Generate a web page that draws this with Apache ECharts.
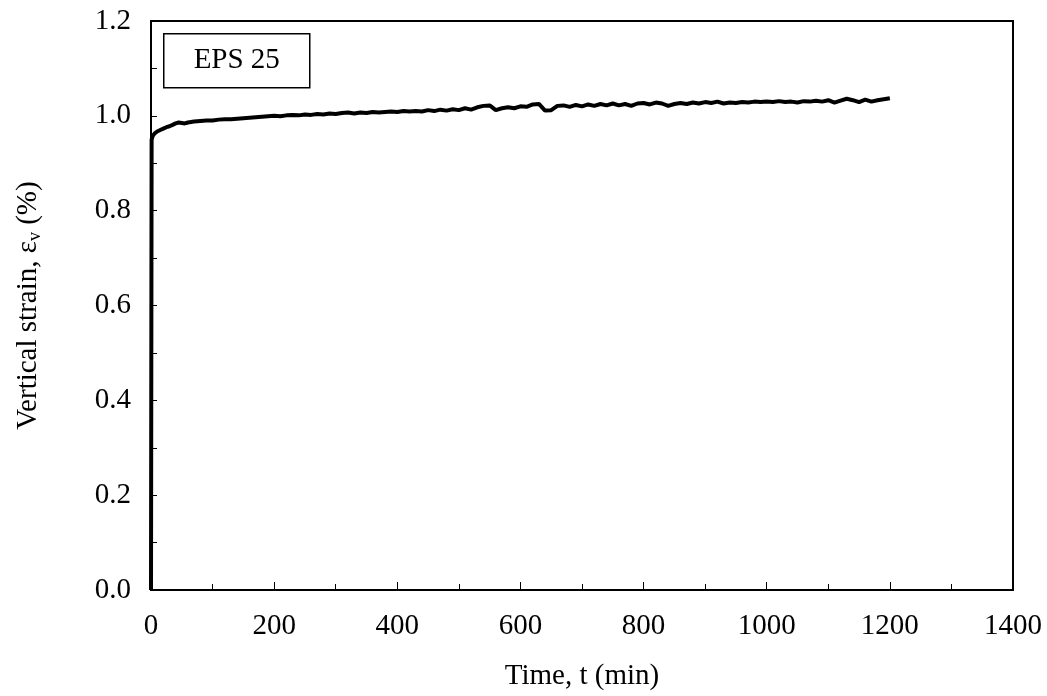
<!DOCTYPE html>
<html>
<head>
<meta charset="utf-8">
<script src="https://cdn.jsdelivr.net/npm/echarts@6/dist/echarts.min.js"></script>
<style>
html,body{margin:0;padding:0;background:#fff;}
#chart{width:1047px;height:696px;}
</style>
</head>
<body>
<div id="chart"></div>
<script>
// Time (min)
const timeMin = [0,1,3,6,10,15,20,25,30,35,40,45,50,55,60,70,80,90,100,110,120,130,140,150,160,170,180,190,200,
210,220,230,240,250,260,270,280,290,300,310,320,330,340,350,360,370,380,390,400,
410,420,430,440,450,460,470,480,490,500,510,520,530,540,550,560,570,580,590,600,
610,620,630,640,650,660,670,680,690,700,710,720,730,740,750,760,770,780,790,800,
810,820,830,840,850,860,870,880,890,900,910,920,930,940,950,960,970,980,990,1000,
1010,1020,1030,1040,1050,1060,1070,1080,1090,1100,1110,1120,1130,1140,1150,1160,1170,1180,1190,1200];
// Vertical strain (%)
const strain = [0,0.950,0.958,0.963,0.967,0.970,0.973,0.976,0.978,0.981,0.984,0.986,0.985,0.984,0.986,0.988,0.989,0.990,0.990,0.992,0.993,0.993,0.994,0.995,0.996,0.997,0.998,0.999,1.000,
0.999,1.001,1.002,1.001,1.003,1.002,1.004,1.003,1.005,1.004,1.006,1.007,1.005,1.007,1.006,1.008,1.007,1.008,1.009,1.008,
1.010,1.009,1.010,1.009,1.012,1.010,1.013,1.011,1.014,1.012,1.016,1.013,1.018,1.021,1.022,1.012,1.016,1.018,1.016,1.020,
1.019,1.024,1.025,1.011,1.012,1.021,1.022,1.019,1.023,1.020,1.024,1.021,1.025,1.022,1.026,1.022,1.025,1.021,1.026,1.027,
1.024,1.028,1.026,1.021,1.025,1.027,1.025,1.028,1.026,1.029,1.027,1.030,1.026,1.028,1.027,1.029,1.028,1.030,1.029,1.030,
1.029,1.031,1.029,1.030,1.028,1.031,1.030,1.032,1.030,1.033,1.028,1.032,1.036,1.033,1.029,1.034,1.030,1.033,1.035,1.037];

const xTicks = [0,200,400,600,800,1000,1200,1400];
const yTicks = [0.0,0.2,0.4,0.6,0.8,1.0,1.2];
const sampleLabel = 'EPS 25';
const xTitle = 'Time, t (min)';

const FONT = '"Liberation Serif", "Times New Roman", serif';
const FS = 29;

const chart = echarts.init(document.getElementById('chart'), null, {renderer:'canvas'});
const pts = timeMin.map((t,i)=>[t, strain[i]]);

chart.setOption({
  animation:false,
  backgroundColor:'#fff',
  grid:{left:151, right:34, top:21, bottom:99, show:true, borderColor:'#000', borderWidth:2, backgroundColor:'transparent'},
  xAxis:{
    type:'value', min:xTicks[0], max:xTicks[xTicks.length-1], interval:200,
    name:xTitle, nameLocation:'middle', nameGap:72,
    nameTextStyle:{fontFamily:FONT, fontSize:FS, color:'#000'},
    axisLine:{show:true, onZero:false, lineStyle:{color:'#000', width:2}},
    axisTick:{show:true, inside:true, length:8, lineStyle:{color:'#000', width:1}},
    minorTick:{show:true, splitNumber:2, length:6, lineStyle:{color:'#000', width:1}},
    axisLabel:{fontFamily:FONT, fontSize:FS, color:'#000', margin:22, formatter:v=>String(v)},
    splitLine:{show:false}
  },
  yAxis:{
    type:'value', min:yTicks[0], max:yTicks[yTicks.length-1], interval:0.2,
    name:'{a|Vertical strain, ε}{s|v}{a| (%)}', nameLocation:'middle', nameGap:107, nameRotate:90,
    nameTextStyle:{fontFamily:FONT, fontSize:FS, color:'#000',
      rich:{a:{fontFamily:FONT, fontSize:FS, color:'#000'}, s:{fontFamily:FONT, fontSize:18, color:'#000', padding:[14,0,0,0]}}},
    axisLine:{show:true, onZero:false, lineStyle:{color:'#000', width:2}},
    axisTick:{show:true, inside:true, length:6, lineStyle:{color:'#000', width:1}},
    minorTick:{show:true, splitNumber:2, length:6, lineStyle:{color:'#000', width:1}},
    axisLabel:{fontFamily:FONT, fontSize:FS, color:'#000', margin:20, formatter:v=>v.toFixed(1)},
    splitLine:{show:false}
  },
  series:[{
    type:'line', data:pts, showSymbol:false, symbol:'none',
    lineStyle:{color:'#000', width:4}, z:3
  }],
  graphic:[{
    type:'group', left:163, top:33,
    children:[
      {type:'rect', shape:{x:0,y:0,width:146,height:54}, style:{fill:'#fff', stroke:'#000', lineWidth:1.5}},
      {type:'text', x:73, y:27, style:{text:sampleLabel, font:FS+'px '+FONT, fill:'#000', textAlign:'center', textVerticalAlign:'middle'}}
    ]
  }]
});
</script>
</body>
</html>
